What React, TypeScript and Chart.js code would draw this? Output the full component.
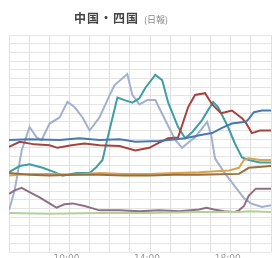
import React, { useEffect, useRef } from "react";
import { Chart, registerables } from "chart.js";

Chart.register(...registerables);

const TITLE_MAIN = "中国・四国";
const TITLE_SUB = "(日報)";
const LABELED_HOURS = [10, 14, 18];

// hours (x) and values (y) per series
const redX = [7.0, 7.53, 8.27, 9.01, 9.41, 10.1, 10.75, 11.49, 12.48, 13.27, 13.96, 14.45, 14.9, 15.39, 15.89, 16.23, 16.73, 17.08, 17.52, 17.72, 18.06, 18.56, 18.75, 19.05, 19.45, 20.0];
const redY = [121, 127, 124, 123, 120, 123, 125, 123, 122, 117, 120, 126, 131, 132, 167, 181, 183, 170, 160, 161, 163, 154, 149, 137, 140, 140];

const blueX = [7.0, 8.02, 9.51, 10.5, 11.49, 12.5, 13.27, 14.45, 15.74, 16.58, 17.08, 17.57, 18.06, 18.75, 18.85, 19.15, 19.55, 20.0];
const blueY = [129, 130, 129, 131, 129, 130, 127, 128, 131, 135, 137, 143, 148, 150, 152, 161, 163, 163];

const tealX = [7.0, 7.53, 8.02, 8.67, 9.26, 9.66, 10.35, 11.0, 11.34, 11.64, 11.98, 12.38, 12.73, 13.12, 13.47, 13.76, 14.26, 14.6, 14.9, 15.39, 15.74, 16.09, 16.58, 17.13, 17.37, 17.87, 18.21, 18.56, 18.9, 19.45, 20.0];
const tealY = [92, 99, 101, 97, 92, 88, 91, 91, 98, 106, 140, 178, 175, 172, 177, 189, 204, 198, 172, 144, 131, 138, 152, 173, 167, 144, 125, 109, 106, 103, 103];

const lavX = [7.0, 7.28, 7.63, 8.02, 8.37, 8.62, 9.01, 9.51, 9.9, 10.25, 10.65, 11.0, 11.49, 11.88, 12.23, 12.87, 13.12, 13.47, 13.86, 14.26, 14.75, 15.25, 15.59, 15.94, 16.23, 16.83, 17.03, 17.22, 17.67, 18.16, 18.66, 19.0, 19.55, 20.0];
const lavY = [48, 71, 117, 144, 132, 129, 148, 155, 173, 167, 155, 140, 155, 175, 192, 205, 181, 170, 175, 175, 152, 129, 120, 127, 132, 150, 135, 108, 92, 77, 62, 56, 52, 54];

const mauveX = [7.0, 7.28, 7.63, 8.02, 8.52, 9.01, 9.36, 9.75, 10.15, 10.75, 11.49, 12.48, 13.47, 14.45, 15.44, 16.43, 16.8, 17.17, 17.67, 18.16, 18.41, 18.66, 18.9, 19.25, 19.69, 20.0];
const mauveY = [67, 71, 74, 69, 63, 56, 51, 55, 56, 53, 48, 48, 47, 48, 47, 49, 51, 49, 47, 46, 48, 53, 65, 73, 73, 73];

const greenX = [7.0, 9.01, 11.49, 13.96, 16.43, 18.41, 18.9, 20.0];
const greenY = [45, 44, 45, 45, 46, 46, 47, 46];

const orangeX = [7.0, 8.0, 9.01, 10.2, 11.49, 12.7, 13.96, 15.2, 16.43, 17.92, 18.41, 18.66, 18.9, 19.45, 20.0];
const orangeY = [88, 90, 90, 89, 91, 90, 90, 91, 92, 94, 97, 106, 108, 106, 106];

const brownX = [7.0, 8.0, 9.01, 10.2, 11.49, 12.7, 13.96, 15.2, 16.43, 18.41, 18.9, 20.0];
const brownY = [91, 89, 88, 89, 89, 88, 88, 89, 89, 90, 97, 99];

const SERIES = [
  { name: "green", xs: greenX, ys: greenY, color: "#b2d197" },
  { name: "mauve", xs: mauveX, ys: mauveY, color: "#8e6f87" },
  { name: "brown", xs: brownX, ys: brownY, color: "#9c6e3c" },
  { name: "orange", xs: orangeX, ys: orangeY, color: "#d9a34f" },
  { name: "blue", xs: blueX, ys: blueY, color: "#4878b0" },
  { name: "red", xs: redX, ys: redY, color: "#a5443f" },
  { name: "teal", xs: tealX, ys: tealY, color: "#3f9ea3" },
  { name: "lavender", xs: lavX, ys: lavY, color: "#a3b1cf" },
];

export default function App() {
  const ref = useRef<HTMLCanvasElement | null>(null);
  useEffect(() => {
    if (!ref.current) return;
    const chart = new Chart(ref.current, {
      type: "line",
      data: {
        datasets: SERIES.map((s) => ({
          label: s.name,
          data: s.xs.map((x, i) => ({ x, y: s.ys[i] })),
          borderColor: s.color,
          backgroundColor: s.color,
          borderWidth: 2,
          pointRadius: 0,
          tension: 0,
          fill: false,
        })),
      },
      options: {
        responsive: false,
        animation: false,
        devicePixelRatio: 1,
        layout: { padding: { left: 9, right: 0, top: 35, bottom: 0 } },
        plugins: { legend: { display: false }, tooltip: { enabled: false }, title: { display: false } },
        scales: {
          x: {
            type: "linear",
            min: 7,
            max: 20,
            grid: { color: "#e0e0e0", drawTicks: false },
            border: { display: false },
            ticks: {
              stepSize: 1,
              autoSkip: false,
              maxRotation: 0,
              padding: 1,
              labelOffset: -3,
              color: "#999",
              font: { size: 9, family: "DejaVu Sans" },
              callback: (v: any) => (LABELED_HOURS.includes(Number(v)) ? `${v}:00` : ""),
            },
            afterFit: (scale: any) => {
              scale.height = 14;
            },
          },
          y: {
            min: 0,
            max: 250,
            grid: { color: "#e4e4e4", drawTicks: false },
            border: { display: false },
            ticks: { display: false, stepSize: 10 },
            afterFit: (scale: any) => {
              scale.width = 0;
            },
          },
        },
      },
    });
    return () => chart.destroy();
  }, []);

  return (
    <div style={{ position: "fixed", left: 0, top: 0, width: 272, height: 258, overflow: "hidden", background: "#fff" }}>
      <canvas ref={ref} width={272} height={266} style={{ position: "absolute", left: 0, top: 0 }} />
      <div
        style={{
          position: "absolute",
          left: 74,
          top: 9,
          whiteSpace: "nowrap",
          fontFamily: "'Noto Sans CJK JP', sans-serif",
          lineHeight: "14px",
        }}
      >
        <span style={{ fontSize: 12, fontWeight: 700, color: "#444", letterSpacing: 1 }}>{TITLE_MAIN}</span>
        <span style={{ fontSize: 9, color: "#888", marginLeft: 5 }}>{TITLE_SUB}</span>
      </div>
    </div>
  );
}
